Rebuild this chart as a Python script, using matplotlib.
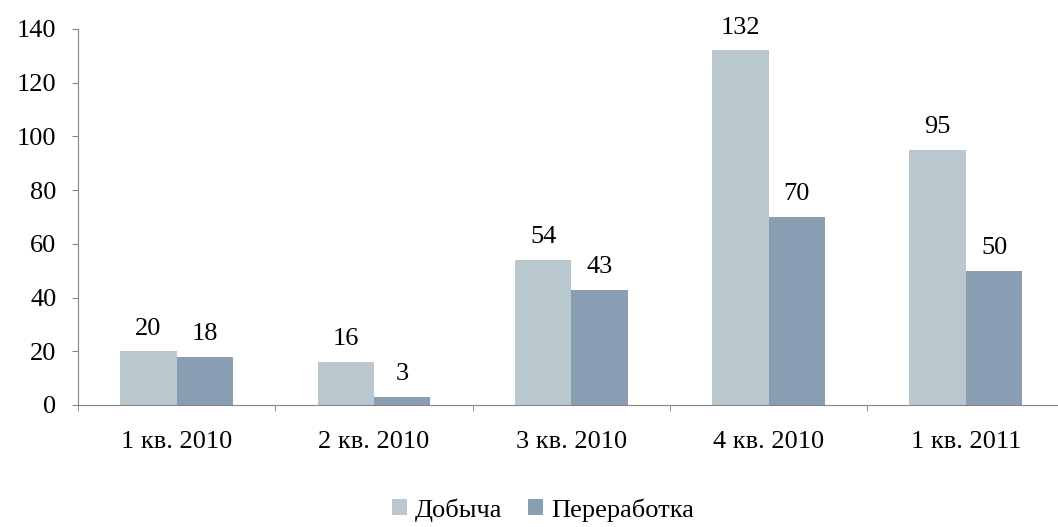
import matplotlib.pyplot as plt
import numpy as np

categories = ['1 кв. 2010', '2 кв. 2010', '3 кв. 2010', '4 кв. 2010', '1 кв. 2011']
dobycha = [20, 16, 54, 132, 95]
pererabotka = [18, 3, 43, 70, 50]

plt.rcParams['font.family'] = ['Liberation Serif', 'DejaVu Serif']
fs = 19

fig = plt.figure(figsize=(10.58, 5.27), dpi=100)
ax = fig.add_axes([78 / 1058, 0.2315, 986.5 / 1058, 0.7135])
ax.spines['bottom'].set_clip_on(False)

x = np.arange(len(categories))
w = 0.286
b1 = ax.bar(x - w / 2, dobycha, w, color='#B9C7CF', label='Добыча')
b2 = ax.bar(x + w / 2, pererabotka, w, color='#899DB3', label='Переработка')

# value labels above bars
for bars, vals in [(b1, dobycha), (b2, pererabotka)]:
    for rect, v in zip(bars, vals):
        ax.annotate(str(v), (rect.get_x() + rect.get_width() / 2, v),
                    xytext=(0, 12), textcoords='offset points',
                    ha='center', va='baseline', fontsize=fs)

ax.set_xlim(-0.5, len(categories) - 0.5)
ax.set_ylim(0, 140)
ax.set_yticks(range(0, 141, 20))
ax.set_xticks(x)
ax.set_xticklabels(categories, fontsize=fs)
ax.set_xticks(np.arange(-0.5, len(categories)), minor=True)
ax.tick_params(axis='x', which='major', length=0, pad=19)
ax.tick_params(axis='x', which='minor', length=4.5, color='#868686')
ax.tick_params(axis='y', labelsize=fs, length=4.5, color='#868686', pad=11)

for s in ['top', 'right']:
    ax.spines[s].set_visible(False)
for s in ['left', 'bottom']:
    ax.spines[s].set_color('#868686')

fig.legend(handles=[b1, b2], loc='center', bbox_to_anchor=(543 / 1058, 1 - 510 / 527),
           ncol=2, frameon=False, fontsize=fs, handlelength=0.55, handleheight=0.55,
           handletextpad=0.3, columnspacing=1.0, borderpad=0, borderaxespad=0)

fig.savefig('out.png', dpi=100)
